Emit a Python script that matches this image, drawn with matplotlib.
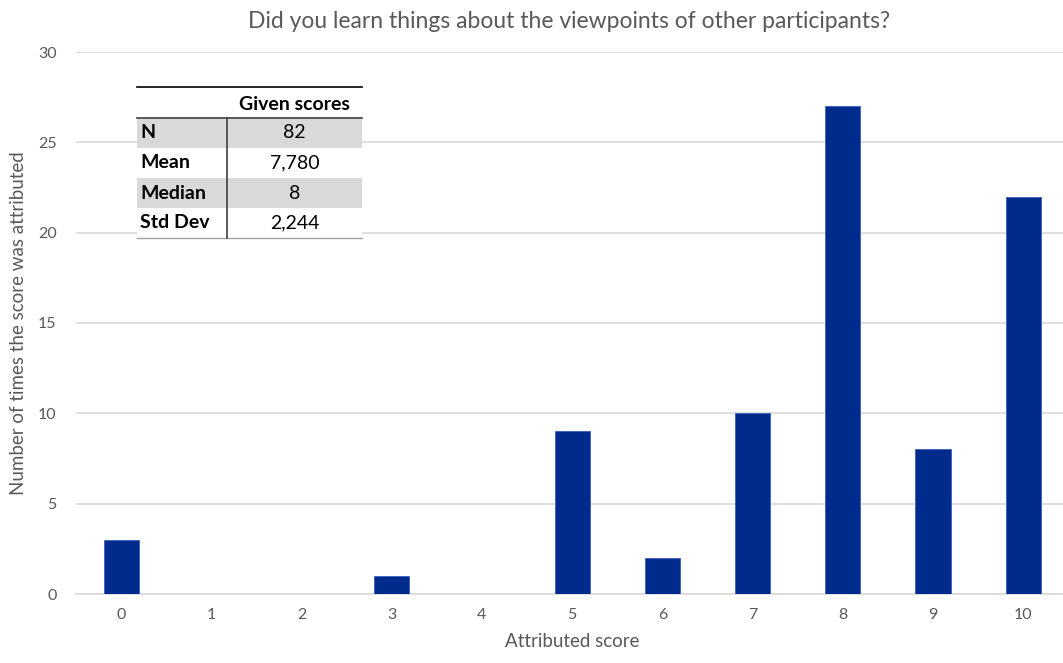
import numpy as np
import matplotlib.pyplot as plt
from matplotlib.patches import Rectangle
from matplotlib.lines import Line2D

plt.rcParams['font.family'] = ['Lato', 'DejaVu Sans']

# score counts
scores = [0, 1, 2, 3, 4, 5, 6, 7, 8, 9, 10]
counts = [3, 0, 0, 1, 0, 9, 2, 10, 27, 8, 22]

# summary table
row_labels = ["N", "Mean", "Median", "Std Dev"]
row_values = ["82", "7,780", "8", "2,244"]
col_header = "Given scores"

W, H = 1063, 663
fig = plt.figure(figsize=(W / 100, H / 100), dpi=100)
ax = fig.add_axes([76 / W, 1 - 594 / H, 1 - 76 / W + 0.005, (594 - 52) / H])

bar_color = "#002B8C"
ax.bar(scores, counts, width=0.39, color=bar_color, edgecolor="#3a5fc0", linewidth=0.6, zorder=3)

ax.set_xlim(-0.5, 10.5)
ax.set_ylim(0, 30)
ax.set_yticks(range(0, 31, 5))
ax.set_xticks(scores)
ax.yaxis.grid(True, color="#D9D9D9", linewidth=1.2, zorder=0)
ax.set_axisbelow(True)
for s in ["top", "right", "left"]:
    ax.spines[s].set_visible(False)
ax.spines["bottom"].set_color("#D9D9D9")
ax.spines["bottom"].set_linewidth(1.2)
ax.tick_params(axis="both", length=0, labelsize=11.5, colors="#595959", pad=10)
ax.tick_params(axis="y", pad=14)

ax.set_xlabel("Attributed score", fontsize=13.5, color="#595959", labelpad=8)
ax.set_ylabel("Number of times the score was attributed", fontsize=13.5, color="#595959", labelpad=8)
fig.text(0.5 + 38 / W, 1 - 22 / H, "Did you learn things about the viewpoints of other participants?",
         ha="center", va="center", fontsize=16.5, color="#595959")

# table drawn in pixel coordinates
def px(x, y):
    return x / W, 1 - y / H

tx0, tx1, tsep = 137, 362, 227
top, head_bot = 87, 118
row_h = 30
fig.add_artist(Rectangle(px(tx0, 240), (tx1 - tx0) / W, (240 - top) / H,
                         transform=fig.transFigure, facecolor="white", edgecolor="none", zorder=5))
for i, (lab, val) in enumerate(zip(row_labels, row_values)):
    y0 = head_bot + i * row_h
    if i % 2 == 0:
        fig.add_artist(Rectangle(px(tx0, y0 + row_h), (tx1 - tx0) / W, row_h / H,
                                 transform=fig.transFigure, facecolor="#D9D9D9",
                                 edgecolor="none", zorder=6))
    fig.text(*px(tx0 + 3, y0 + row_h / 2), lab, ha="left", va="center",
             fontsize=14, fontweight="bold", color="black", zorder=8)
    fig.text(*px((tsep + tx1) / 2, y0 + row_h / 2), val, ha="center", va="center",
             fontsize=14, color="black", zorder=8)
fig.text(*px((tsep + tx1) / 2, (top + head_bot) / 2 + 2), col_header, ha="center", va="center",
         fontsize=14, fontweight="bold", color="black", zorder=8)

bot = head_bot + len(row_labels) * row_h
fig.add_artist(Line2D([tx0 / W, tx1 / W], [1 - top / H] * 2, color="black", linewidth=1.2, zorder=9))
fig.add_artist(Line2D([tx0 / W, tx1 / W], [1 - head_bot / H] * 2, color="#404040", linewidth=1.2, zorder=9))
fig.add_artist(Line2D([tx0 / W, tx1 / W], [1 - bot / H] * 2, color="#A0A0A0", linewidth=1.0, zorder=9))
fig.add_artist(Line2D([tsep / W] * 2, [1 - head_bot / H, 1 - bot / H], color="#404040", linewidth=1.2, zorder=9))

fig.savefig("out.png", dpi=100)
